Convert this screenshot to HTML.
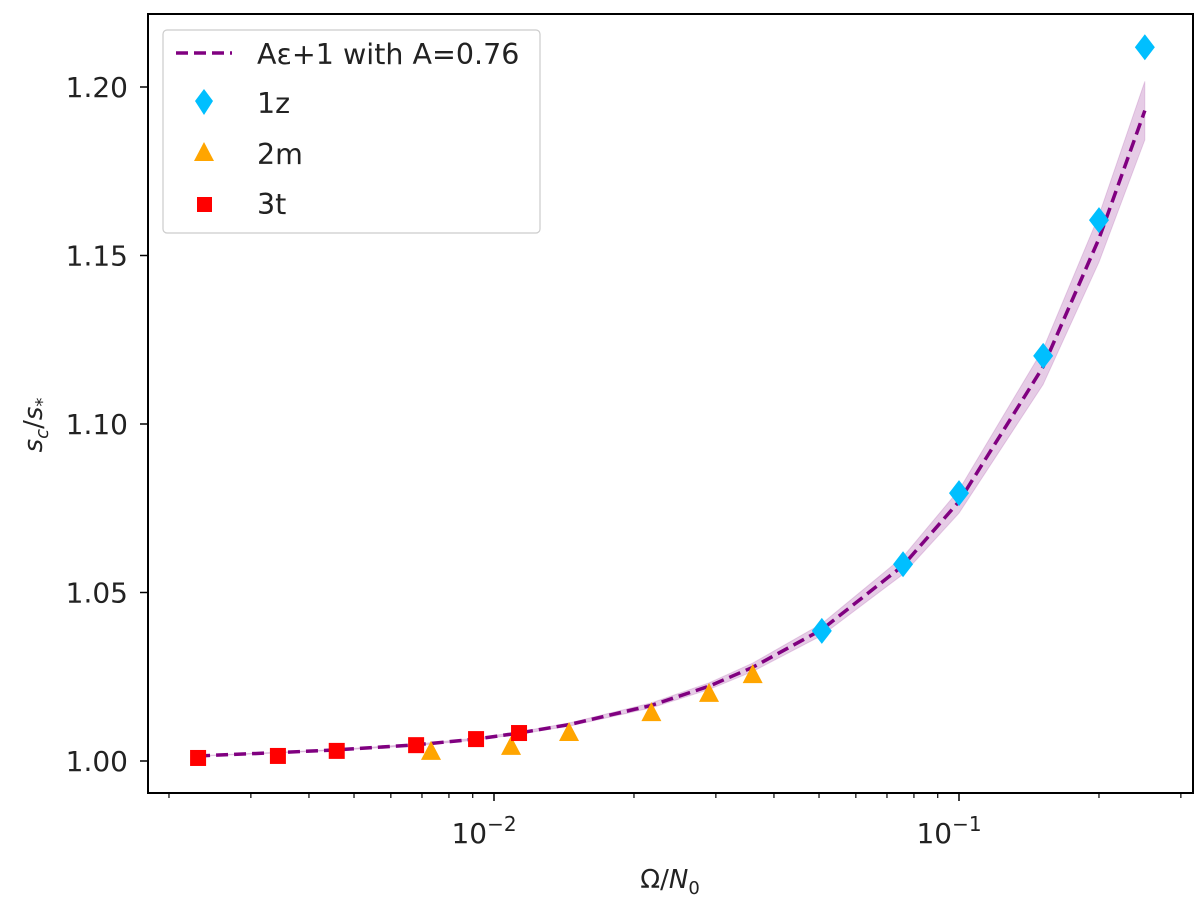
<!DOCTYPE html>
<html><head><meta charset="utf-8"><style>
body{margin:0;background:#fff;}
svg{display:block;font-family:"DejaVu Sans","Liberation Sans",sans-serif;}
</style></head><body>
<svg id="chart" width="1200" height="905">
<g id="plot"></g>
</svg>
<script>
const lineX=[0.00231,0.00343,0.00459,0.0068,0.00915,0.01132,0.0145,0.0218,0.029,0.036,0.0507,0.0758,0.1,0.1517,0.2,0.251];
const lineY=[1.0015,1.0025,1.0033,1.0048,1.0065,1.0083,1.0108,1.0165,1.0222,1.0278,1.039,1.058,1.077,1.117,1.155,1.193];
const zX=[0.0507,0.0758,0.1,0.1517,0.2,0.251];
const zY=[1.0386,1.0584,1.0795,1.1202,1.1605,1.2118];
const mX=[0.00732,0.01088,0.0145,0.0218,0.029,0.036];
const mY=[1.0027,1.0042,1.0083,1.0142,1.0199,1.0255];
const tX=[0.00231,0.00343,0.00459,0.0068,0.00915,0.01132];
const tY=[1.0009,1.0015,1.003,1.0047,1.0065,1.0083];
const yTicks=[1.00,1.05,1.10,1.15,1.20];
const yTickLabels=["1.00","1.05","1.10","1.15","1.20"];

const L=148,R=1193,T=14,B=793;
const xs=v=>494+(Math.log10(v)+2)*465;
const ys=v=>761-(v-1)*3370;
const NS="http://www.w3.org/2000/svg";
const g=document.getElementById('plot');
function mk(tag,attrs,parent){const e=document.createElementNS(NS,tag);for(const k in attrs)e.setAttribute(k,attrs[k]);(parent||g).appendChild(e);return e;}

let up=lineX.map((x,i)=>xs(x)+','+ys(lineY[i]+(lineY[i]-1)*0.045));
let dn=lineX.map((x,i)=>xs(x)+','+ys(lineY[i]-(lineY[i]-1)*0.045)).reverse();
let band=mk('polygon',{points:up.concat(dn).join(' '),fill:'#800080','fill-opacity':0.2,stroke:'#800080','stroke-opacity':0.15});


let fit=mk('polyline',{points:lineX.map((x,i)=>xs(x)+','+ys(lineY[i])).join(' '),fill:'none',stroke:'#800080','stroke-width':3.5,'stroke-dasharray':'12,6'});



zX.forEach((x,i)=>{const cx=xs(x),cy=ys(zY[i]);
const p=mk('polygon',{points:`${cx},${cy-13} ${cx+10},${cy} ${cx},${cy+13} ${cx-10},${cy}`,fill:'#00bfff'});

});
mX.forEach((x,i)=>{const cx=xs(x),cy=ys(mY[i]);
const p=mk('polygon',{points:`${cx},${cy-11} ${cx+10},${cy+8} ${cx-10},${cy+8}`,fill:'#ffa500'});

});
tX.forEach((x,i)=>{const cx=xs(x),cy=ys(tY[i]);
const p=mk('rect',{x:cx-8,y:cy-8,width:16,height:16,fill:'#ff0000'});

});

const fr=mk('rect',{x:L,y:T,width:R-L,height:B-T,fill:'none',stroke:'#000','stroke-width':2});


yTicks.forEach((v,i)=>{const y=ys(v);mk('line',{x1:L-8,x2:L,y1:y,y2:y,stroke:'#000','stroke-width':1.5});
const t=mk('text',{x:L-20,y:y+10,'text-anchor':'end','font-size':28,fill:'#222'});t.textContent=yTickLabels[i];

});
for(let e=-3;e<=-1;e++){for(let m=1;m<=9;m++){const v=m*Math.pow(10,e);const x=xs(v);if(x<L||x>R)continue;
const major=m===1;mk('line',{x1:x,x2:x,y1:B,y2:B+(major?8:5),stroke:'#000','stroke-width':major?1.5:1.2});
if(major){const t=mk('text',{x:x-10,y:B+50,'text-anchor':'middle','font-size':28,fill:'#222'});
t.innerHTML='10<tspan dy="-12" font-size="20">−'+(-e)+'</tspan>';

}}}
let xt=mk('text',{x:670,y:888,'text-anchor':'middle','font-size':26,fill:'#222'});
xt.innerHTML='Ω/<tspan font-style="italic">N</tspan><tspan font-size="18" dy="6">0</tspan>';


let yt=mk('text',{x:0,y:0,'text-anchor':'middle','font-size':26,fill:'#222',transform:'translate(42,425) rotate(-90)'});
yt.innerHTML='<tspan font-style="italic">s</tspan><tspan font-size="18" dy="6" font-style="italic">c</tspan><tspan dy="-6">/</tspan><tspan font-style="italic">s</tspan><tspan font-size="18" dy="6">*</tspan>';



const lg=mk('g',{});


mk('rect',{x:163,y:30,width:377,height:203,rx:4,fill:'#fff','fill-opacity':0.85,stroke:'#ccc','stroke-width':1.2},lg);
mk('line',{x1:176,x2:232,y1:53,y2:53,stroke:'#800080','stroke-width':3.5,'stroke-dasharray':'12,6'},lg);
mk('polygon',{points:'204,89 213,101 204,115 195,101',fill:'#00bfff'},lg);
mk('polygon',{points:'204,142 214,161 194,161',fill:'#ffa500'},lg);
mk('rect',{x:197,y:197,width:15,height:15,fill:'#ff0000'},lg);
[['Aε+1 with A=0.76',64],['1z',113],['2m',164],['3t',214]].forEach(([s,y])=>{const t=mk('text',{x:257,y:y,'font-size':28.5,fill:'#222'},lg);t.textContent=s;

});
</script>
</body></html>
